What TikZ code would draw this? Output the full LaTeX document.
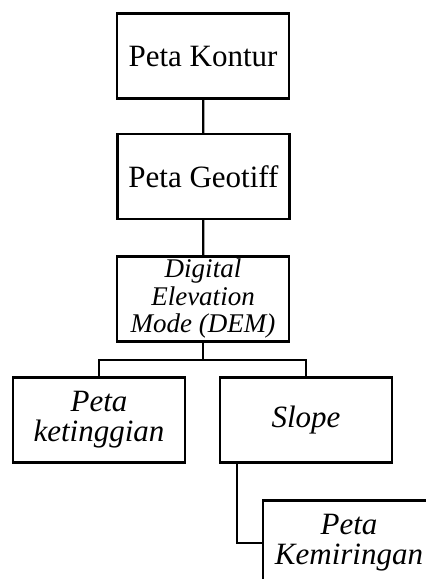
\documentclass[tikz,border=0pt]{standalone}
\usepackage{fontspec}
\setmainfont{Liberation Serif}
\tikzset{
 kotak/.style={draw, line width=2.2pt, minimum width=172pt, minimum height=85pt, inner sep=0pt, align=center},
 tegak/.style={font=\fontsize{31}{37}\selectfont},
 miring/.style={font=\fontsize{31}{30}\selectfont\itshape},
 garis/.style={line width=2.2pt}
}
\begin{document}
\begin{tikzpicture}[x=1pt,y=-1pt]
\clip (0,0) rectangle (426,579);
\node[kotak,tegak] (kontur) at (203,56) {Peta Kontur};
\node[kotak,tegak] (geotiff) at (203.5,176.5) {Peta Geotiff};
\node[kotak,font=\fontsize{27}{27.5}\selectfont\itshape] (dem) at (203,299) {Digital\\Elevation\\Mode (DEM)};
\node[kotak,miring] (ketinggian) at (99,420) {Peta\\ketinggian};
\node[kotak,miring] (slope) at (306,420) {Slope};
\node[kotak,miring] (kemiringan) at (349,543) {Peta\\Kemiringan};
\coordinate (cabang) at ([yshift=-17pt]dem.south);
\coordinate (turun) at ([xshift=18pt]slope.south west);
\draw[garis] (kontur) -- (geotiff);
\draw[garis] (geotiff) -- (dem);
\draw[garis] (dem) -- (cabang);
\draw[garis] (ketinggian.north) |- (cabang) -| (slope.north);
\draw[garis] (turun) |- (kemiringan.west);
\end{tikzpicture}
\end{document}
